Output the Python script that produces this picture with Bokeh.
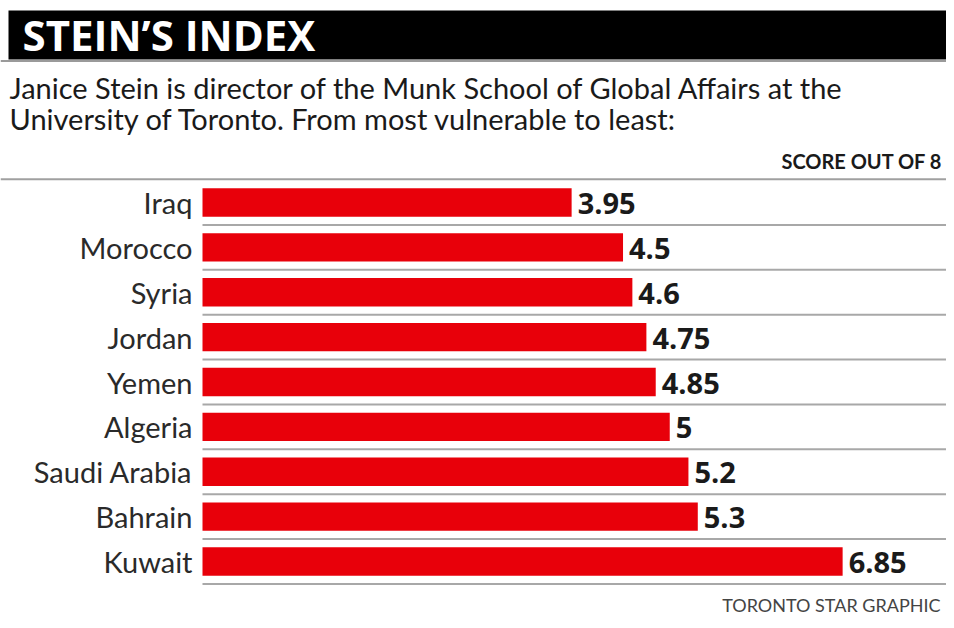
from bokeh.plotting import figure
from bokeh.models import Range1d, ColumnDataSource
from bokeh.core.properties import value
from bokeh.embed import file_html
from bokeh.resources import INLINE

countries = ["Iraq", "Morocco", "Syria", "Jordan", "Yemen", "Algeria",
             "Saudi Arabia", "Bahrain", "Kuwait"]
scores = [3.95, 4.5, 4.6, 4.75, 4.85, 5.0, 5.2, 5.3, 6.85]
score_labels = ["3.95", "4.5", "4.6", "4.75", "4.85", "5", "5.2", "5.3", "6.85"]

title_text = "STEIN\u2019S INDEX"
subtitle_lines = ["Janice Stein is director of the Munk School of Global Affairs at the",
                  "University of Toronto. From most vulnerable to least:"]
unit_text = "SCORE OUT OF 8"
credit_text = "TORONTO STAR GRAPHIC"

W, H = 946, 620
X0, SX = 202.0, 93.45     # canvas px of value 0, px per unit
Y0, SY = 202.0, 44.875    # canvas px of first row centre, px per row

def cx(px):   # canvas px -> data x
    return (px - X0) / SX

def cy(py):   # canvas px -> data y
    return (py - Y0) / SY

p = figure(width=W, height=H, output_backend="svg", toolbar_location=None,
           x_range=Range1d(cx(0), cx(W)), y_range=Range1d(cy(H), cy(0)),
           min_border=0, outline_line_color=None, background_fill_color="white",
           border_fill_color="white")
p.xaxis.visible = False
p.yaxis.visible = False
p.xgrid.visible = False
p.ygrid.visible = False

rows = list(range(len(countries)))
src = ColumnDataSource(dict(y=rows, score=scores, country=countries, lab=score_labels))

# header bar
p.quad(left=cx(8), right=cx(W), top=cy(10), bottom=cy(59), fill_color="black", line_color=None)
p.segment(x0=cx(0), x1=cx(W), y0=cy(60.5), y1=cy(60.5), line_color="#9a9a9a", line_width=2)
p.text(x=[cx(22)], y=[cy(34)], text=[title_text], text_color="white",
       text_font=value("Open Sans"), text_font_style="bold", text_font_size="42px",
       text_baseline="middle", text_align="left")

# subtitle
p.text(x=[cx(9), cx(9)], y=[cy(87), cy(118)], text=subtitle_lines, text_color="#1a1a1a",
       text_font=value("Lato"), text_font_size="29px", text_baseline="middle")

p.text(x=[cx(942)], y=[cy(160)], text=[unit_text], text_color="#1a1a1a",
       text_font=value("Lato"), text_font_style="bold", text_font_size="20px",
       text_baseline="middle", text_align="right")

# separator lines
sep_y = [r + 0.5 for r in rows]
p.segment(x0=cx(0), x1=cx(W), y0=-0.52, y1=-0.52, line_color="#a0a0a0", line_width=2)
p.segment(x0=[0] * len(sep_y), x1=[cx(W)] * len(sep_y), y0=sep_y, y1=sep_y,
          line_color="#a8a8a8", line_width=2)

# bars
p.hbar(y="y", right="score", left=0, height=0.63, source=src, fill_color="#e8000a",
       line_color=None)

# labels
p.text(x=cx(192), y="y", text="country", source=src, text_color="#2a2a2a",
       text_font=value("Lato"), text_font_size="29px", text_align="right",
       text_baseline="middle")
p.text(x="score", y="y", text="lab", source=src, text_color="#1a1a1a",
       text_font=value("Open Sans"), text_font_style="bold", text_font_size="29px",
       text_align="left", text_baseline="middle", x_offset=6, y_offset=1)

p.text(x=[cx(940)], y=[cy(604)], text=[credit_text], text_color="#444444",
       text_font=value("Lato"), text_font_size="18px",
       text_baseline="middle", text_align="right")

open("out.html", "w").write(file_html(p, INLINE))
